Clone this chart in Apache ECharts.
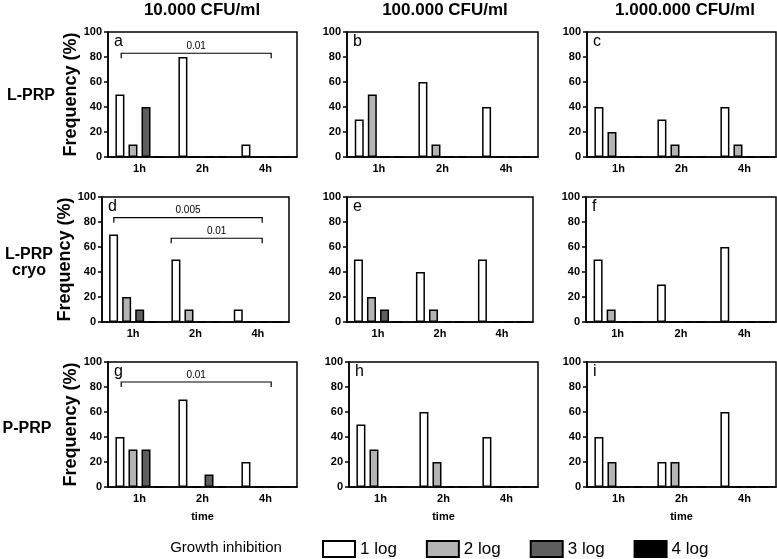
<!DOCTYPE html>
<html><head><meta charset="utf-8">
<script src="https://cdn.jsdelivr.net/npm/echarts@6/dist/echarts.min.js"></script>
<style>html,body{margin:0;padding:0;background:#fff}#c{width:777px;height:559px}</style>
</head><body><div id="c"></div>
<script>
// ---- data ----
const categories = ['1h', '2h', '4h'];
const seriesNames = ['1 log', '2 log', '3 log', '4 log'];
const colTitles = ['10.000 CFU/ml', '100.000 CFU/ml', '1.000.000 CFU/ml'];
const rowLabels = ['L-PRP', 'L-PRP\ncryo', 'P-PRP'];
const panelLetters = ['a', 'b', 'c', 'd', 'e', 'f', 'g', 'h', 'i'];
// each panel: rows = 1 log, 2 log, 3 log, 4 log ; columns = 1h, 2h, 4h
const panelA = [[50, 80, 10], [10, 0, 0], [40, 0, 0], [0, 0, 0]];
const panelB = [[30, 60, 40], [50, 10, 0], [0, 0, 0], [0, 0, 0]];
const panelC = [[40, 30, 40], [20, 10, 10], [0, 0, 0], [0, 0, 0]];
const panelD = [[70, 50, 10], [20, 10, 0], [10, 0, 0], [0, 0, 0]];
const panelE = [[50, 40, 50], [20, 10, 0], [10, 0, 0], [0, 0, 0]];
const panelF = [[50, 30, 60], [10, 0, 0], [0, 0, 0], [0, 0, 0]];
const panelG = [[40, 70, 20], [30, 0, 0], [30, 10, 0], [0, 0, 0]];
const panelH = [[50, 60, 40], [30, 20, 0], [0, 0, 0], [0, 0, 0]];
const panelI = [[40, 20, 60], [20, 20, 0], [0, 0, 0], [0, 0, 0]];
// significance brackets: [from (category units), to, height (%)], labels
const bracketsA = [[-0.29, 2.09, 83]];
const bracketLabelsA = ['0.01'];
const bracketsD = [[-0.31, 2.07, 83.5], [0.61, 2.07, 67]];
const bracketLabelsD = ['0.005', '0.01'];
const bracketsG = [[-0.29, 2.09, 84]];
const bracketLabelsG = ['0.01'];

const panels = [panelA, panelB, panelC, panelD, panelE, panelF, panelG, panelH, panelI];
const brackets = {0: [bracketsA, bracketLabelsA], 3: [bracketsD, bracketLabelsD], 6: [bracketsG, bracketLabelsG]};

// ---- layout ----
const FONT = '"Liberation Sans", Arial, sans-serif';
const rowTops = [32, 197, 362];
const plotH = 125;
const boxes = [
  [108, 297], [347, 538], [587, 776],
  [102, 289], [347, 533], [586, 776],
  [108, 297], [349, 538], [587, 776]
];
const colors = ['#ffffff', '#b4b4b4', '#5e5e5e', '#000000'];

const grids = [], xAxes = [], yAxes = [], series = [], graphics = [];
panels.forEach((p, i) => {
  const r = Math.floor(i / 3), c = i % 3;
  const [l, rt] = boxes[i];
  const top = rowTops[r];
  grids.push({left: l, top: top, width: rt - l, height: plotH, show: true,
    borderColor: '#000', borderWidth: 1.5, backgroundColor: 'transparent', containLabel: false});
  xAxes.push({type: 'category', gridIndex: i, data: categories,
    axisLine: {onZero: false, lineStyle: {color: '#000', width: 1.5}},
    axisTick: {alignWithLabel: true, length: 4, lineStyle: {color: '#000', width: 1.5}},
    axisLabel: {color: '#000', fontWeight: 'bold', fontSize: 11, fontFamily: FONT, margin: 6},
    name: r === 2 ? 'time' : '', nameLocation: 'middle', nameGap: 24,
    nameTextStyle: {color: '#000', fontWeight: 'bold', fontSize: 11, fontFamily: FONT}});
  xAxes.push({type: 'value', gridIndex: i, min: -0.5, max: 2.5, show: false});
  yAxes.push({type: 'value', gridIndex: i, min: 0, max: 100, interval: 20,
    axisLine: {show: true, onZero: false, lineStyle: {color: '#000', width: 1.5}},
    axisTick: {show: true, length: 4, lineStyle: {color: '#000', width: 1.5}},
    splitLine: {show: false},
    axisLabel: {color: '#000', fontWeight: 'bold', fontSize: 11, fontFamily: FONT, margin: 6},
    name: c === 0 ? 'Frequency (%)' : '', nameLocation: 'middle', nameGap: 25,
    nameTextStyle: {color: '#000', fontWeight: 'bold', fontSize: 18, fontFamily: FONT}});
  p.forEach((vals, s) => {
    series.push({type: 'bar', name: seriesNames[s], xAxisIndex: 2 * i, yAxisIndex: i,
      data: vals, barWidth: 9, barGap: '45%',
      itemStyle: {color: colors[s], borderColor: '#000', borderWidth: 1.5},
      emphasis: {disabled: true}, animation: false});
  });
  if (brackets[i]) {
    const [bdata, blabels] = brackets[i];
    series.push({type: 'custom', xAxisIndex: 2 * i + 1, yAxisIndex: i, clip: false,
      data: bdata, encode: {x: [0, 1], y: 2}, animation: false,
      renderItem: function (params, api) {
        const p1 = api.coord([api.value(0), api.value(2)]);
        const p2 = api.coord([api.value(1), api.value(2)]);
        return {type: 'group', children: [
          {type: 'polyline', shape: {points: [[p1[0], p1[1] + 5], [p1[0], p1[1]], [p2[0], p2[1]], [p2[0], p2[1] + 5]]},
           style: {stroke: '#000', lineWidth: 1.2, fill: null}},
          {type: 'text', x: (p1[0] + p2[0]) / 2, y: p1[1] - 2,
           style: {text: blabels[params.dataIndex], textAlign: 'center', textVerticalAlign: 'bottom',
                   font: '10px ' + FONT, fill: '#000'}}
        ]};
      }});
  }
  graphics.push({type: 'text', left: l + 6, top: top + 2,
    style: {text: panelLetters[i], font: '16px ' + FONT, fill: '#000'}});
});

// column titles
const colCenters = [202, 445, 685];
colTitles.forEach((t, c) => {
  graphics.push({type: 'text', x: colCenters[c], y: 10,
    style: {text: t, font: 'bold 17px ' + FONT, fill: '#000', textAlign: 'center', textVerticalAlign: 'middle'}});
});
// row labels
const rowCenters = [[31, 96], [29, 263], [27, 429]];
rowLabels.forEach((t, r) => {
  graphics.push({type: 'text', x: rowCenters[r][0], y: rowCenters[r][1],
    style: {text: t, font: 'bold 16px ' + FONT, fill: '#000', textAlign: 'center', textVerticalAlign: 'middle', lineHeight: 16}});
});
graphics.push({type: 'text', x: 226, y: 548,
  style: {text: 'Growth inhibition', font: '15px ' + FONT, fill: '#000', textAlign: 'center', textVerticalAlign: 'middle'}});

const chart = echarts.init(document.getElementById('c'), null, {renderer: 'canvas'});
chart.setOption({
  animation: false,
  backgroundColor: '#fff',
  grid: grids, xAxis: xAxes, yAxis: yAxes, series: series, graphic: graphics,
  legend: {data: seriesNames, left: 322, top: 540, padding: 0, icon: 'rect', itemWidth: 32, itemHeight: 16, itemGap: 29,
    itemStyle: {borderColor: '#000', borderWidth: 2},
    textStyle: {color: '#000', fontSize: 17, lineHeight: 16, fontFamily: FONT}, selectedMode: false}
});
</script></body></html>
